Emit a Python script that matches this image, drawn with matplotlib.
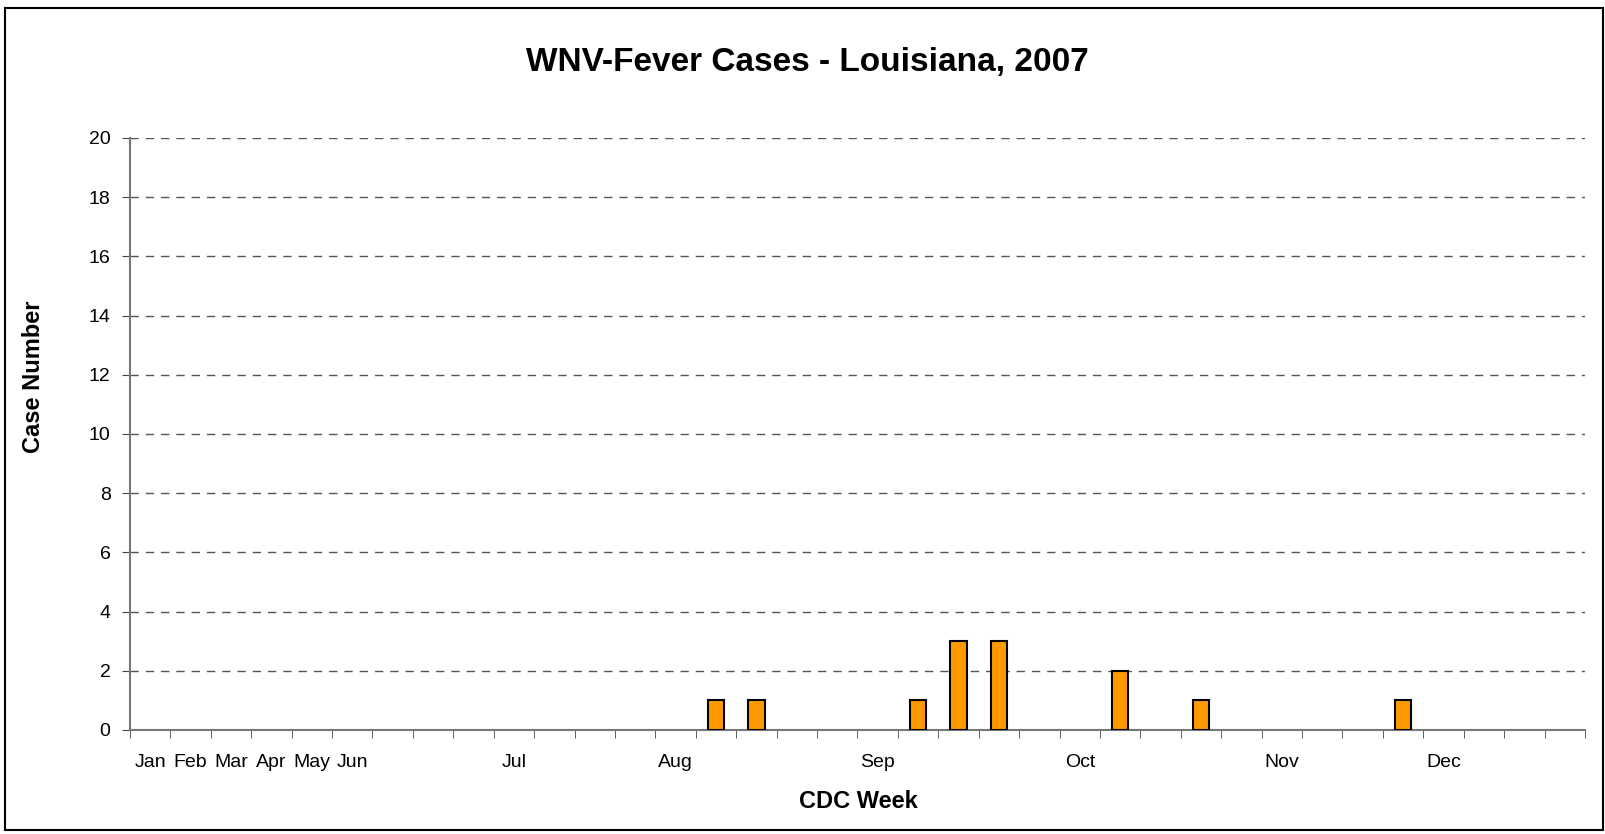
import matplotlib
matplotlib.use("Agg")
import matplotlib.pyplot as plt
import numpy as np

plt.rcParams["font.family"] = ["Liberation Sans", "DejaVu Sans"]

# 36 CDC week slots, month labels on a few of them
month_labels = ["Jan", "Feb", "Mar", "Apr", "May", "Jun", "", "", "", "Jul",
                "", "", "", "Aug", "", "", "", "", "Sep", "", "", "", "",
                "Oct", "", "", "", "", "Nov", "", "", "", "Dec", "", "", ""]
case_weeks = [14, 15, 19, 20, 21, 24, 26, 31]
case_counts = [1, 1, 1, 3, 3, 2, 1, 1]

n = len(month_labels)
cases = np.zeros(n)
cases[case_weeks] = case_counts

fig = plt.figure(figsize=(16.06, 8.34), dpi=100)
ax = fig.add_axes([130 / 1606, 1 - 730 / 834, (1585 - 130) / 1606, (730 - 138) / 834])

x = np.arange(n)
has = cases > 0
ax.bar(x[has], cases[has], width=0.4, color="#FF9900", edgecolor="black",
       linewidth=1.5, zorder=3)

ax.set_xlim(-0.5, n - 0.5)
ax.set_ylim(0, 20)
ax.set_yticks(range(0, 21, 2))
ax.yaxis.grid(True, linestyle=(0, (6, 5)), color="#555555", linewidth=1)
ax.set_axisbelow(True)

ax.set_xticks(x)
ax.set_xticklabels(month_labels)
ax.set_xticks(np.arange(-0.5, n, 1), minor=True)
ax.tick_params(axis="x", which="major", length=0, pad=17, labelsize=14)
ax.tick_params(axis="x", which="minor", length=6, color="#444444", direction="out")
ax.tick_params(axis="y", length=6, color="#444444", labelsize=14, pad=8)

for s in ["top", "right"]:
    ax.spines[s].set_visible(False)
for s in ["left", "bottom"]:
    ax.spines[s].set_color("#777777")
    ax.spines[s].set_linewidth(1.5)

# remove the gridline at zero
ax.yaxis.get_gridlines()[0].set_visible(False)

fig.text(807 / 1606, 1 - 62 / 834, "WNV-Fever Cases - Louisiana, 2007",
         ha="center", va="center", fontsize=24, fontweight="bold")
fig.text(34 / 1606, 1 - 377 / 834, "Case Number", rotation=90,
         ha="center", va="center", fontsize=17, fontweight="bold")
fig.text(858 / 1606, 1 - 802 / 834, "CDC Week",
         ha="center", va="center", fontsize=17, fontweight="bold")

# outer frame
fig.patches.append(plt.Rectangle((5 / 1606, 4 / 834), 1598 / 1606, 822 / 834,
                                 transform=fig.transFigure, fill=False,
                                 edgecolor="black", linewidth=1.5))

fig.savefig("out.png", dpi=100)
